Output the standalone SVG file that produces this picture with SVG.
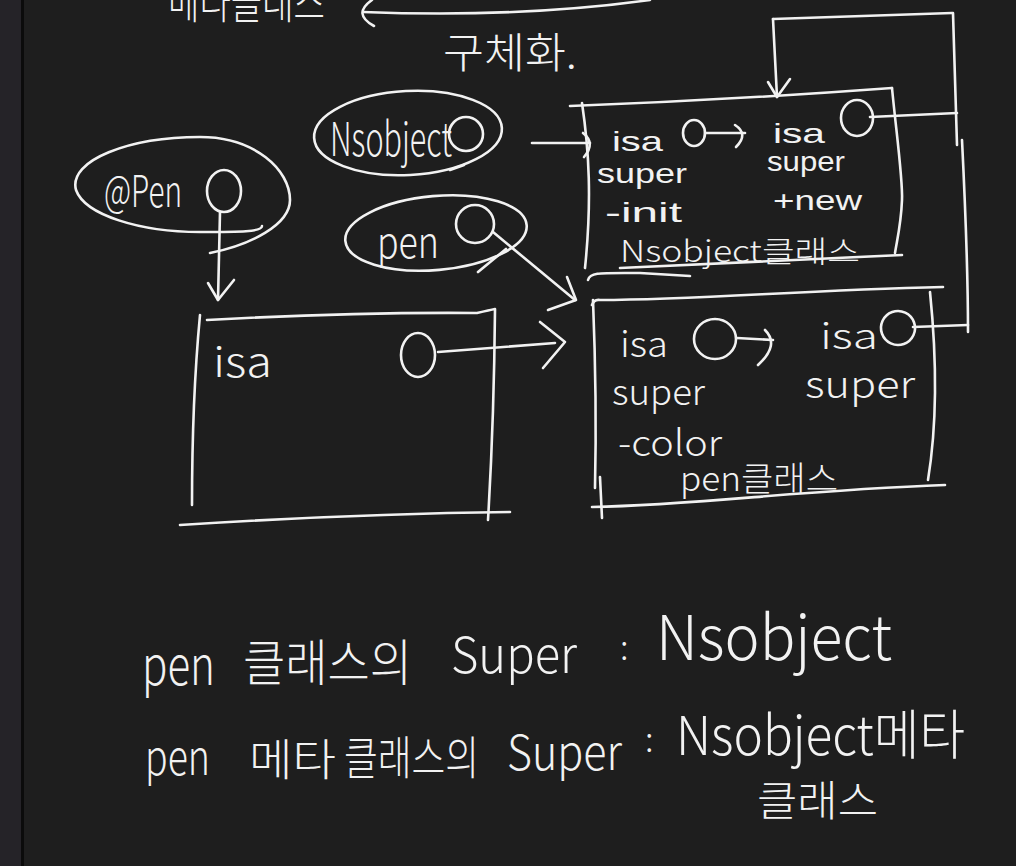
<svg xmlns="http://www.w3.org/2000/svg" width="1016" height="866" viewBox="0 0 1016 866">
<style>
.s{fill:none;stroke:#f2f2f2;stroke-width:2.6;stroke-linecap:round;stroke-linejoin:round}
.t{fill:#f2f2f2;font-family:"Noto Sans CJK KR","Noto Sans",sans-serif;font-weight:300}
.l{fill:#f2f2f2;font-family:"Liberation Sans","Noto Sans",sans-serif}
</style>
<rect x="0" y="0" width="1016" height="866" fill="#1e1e1e"/>
<rect x="0" y="0" width="21" height="866" fill="#252328"/>
<rect x="21" y="0" width="3" height="866" fill="#0b0b0b"/>

<g id="top-notes">
<text class="t" x="168" y="19" font-size="44" textLength="157" lengthAdjust="spacingAndGlyphs">메타클래스</text>
<path class="s" d="M372,0 Q352,14 374,26"/>
<path class="s" d="M363,12 Q520,18 650,0"/>
<text class="t" x="443" y="68" font-size="42" textLength="134" lengthAdjust="spacingAndGlyphs">구체화.</text>
</g>

<g id="nsobject-ellipse">
<ellipse class="s" cx="408" cy="133" rx="94" ry="42" transform="rotate(-3 408 133)"/>
<path class="s" d="M450,170 L464,165"/>
<text class="t" x="330" y="156" font-size="46" textLength="122" lengthAdjust="spacingAndGlyphs">Nsobject</text>
<ellipse class="s" cx="466" cy="134" rx="17" ry="17"/>
</g>

<g id="apen-ellipse">
<path class="s" d="M262,226 C262,232 240,232 200,232 C140,232 85,215 76,190 C68,160 130,137 200,137 C255,137 290,170 290,200 C290,225 250,245 210,253"/>
<text class="t" x="104" y="207" font-size="44" textLength="78" lengthAdjust="spacingAndGlyphs">@Pen</text>
<ellipse class="s" cx="224" cy="191" rx="17" ry="21"/>
</g>

<g id="pen-ellipse">
<ellipse class="s" cx="436" cy="233" rx="91" ry="37" transform="rotate(-5 436 233)"/>
<path class="s" d="M478,272 L506,249"/>
<text class="t" x="377" y="258" font-size="44" textLength="62" lengthAdjust="spacingAndGlyphs">pen</text>
<ellipse class="s" cx="475" cy="224" rx="19" ry="19"/>
</g>

<g id="nsobject-class-box">
<path class="s" d="M570,106 Q730,100 892,88"/>
<path class="s" d="M892,88 C896,130 903,180 902,200 C901,225 897,240 895,253"/>
<path class="s" d="M582,103 C589,150 592,200 585,268"/>
<path class="s" d="M620,268 Q760,262 902,255"/>
<path class="s" d="M588,280 C590,272 600,273 640,273 L690,276"/>
<text class="l" x="612" y="151" font-size="28" textLength="51" lengthAdjust="spacingAndGlyphs">isa</text>
<ellipse class="s" cx="694" cy="133" rx="11" ry="13"/>
<text class="l" x="773" y="143" font-size="28" textLength="52" lengthAdjust="spacingAndGlyphs">isa</text>
<ellipse class="s" cx="857" cy="118" rx="16" ry="18"/>
<text class="l" x="597" y="183" font-size="28" textLength="90" lengthAdjust="spacingAndGlyphs">super</text>
<text class="l" x="767" y="171" font-size="27" textLength="78" lengthAdjust="spacingAndGlyphs">super</text>
<text class="l" x="605" y="222" font-size="28" textLength="77" lengthAdjust="spacingAndGlyphs">-init</text>
<text class="l" x="773" y="210" font-size="28" textLength="89" lengthAdjust="spacingAndGlyphs">+new</text>
<text class="t" x="620" y="262" font-size="30" textLength="240" lengthAdjust="spacingAndGlyphs">Nsobject클래스</text>
</g>

<g id="instance-box">
<path class="s" d="M207,320 Q350,312 477,313 Q490,310 495,309"/>
<path class="s" d="M200,315 Q192,400 192,505"/>
<path class="s" d="M495,310 Q494,420 488,520"/>
<path class="s" d="M180,525 Q350,514 510,512"/>
<text class="t" x="213" y="377" font-size="42" textLength="59" lengthAdjust="spacingAndGlyphs">isa</text>
<ellipse class="s" cx="418" cy="355" rx="17" ry="22"/>
</g>

<g id="pen-class-box">
<path class="s" d="M592,305 Q594,299 600,300 C700,300 800,290 943,287"/>
<path class="s" d="M593,300 Q597,400 595,488"/>
<path class="s" d="M930,292 Q941,400 928,480"/>
<path class="s" d="M592,507 C700,505 800,490 945,485"/>
<path class="s" d="M600,477 L602,518"/>
<text class="t" x="620" y="357" font-size="36" textLength="48" lengthAdjust="spacingAndGlyphs">isa</text>
<ellipse class="s" cx="715" cy="339" rx="21" ry="20"/>
<text class="t" x="820" y="349" font-size="36" textLength="58" lengthAdjust="spacingAndGlyphs">isa</text>
<ellipse class="s" cx="898" cy="328" rx="17" ry="17" transform="rotate(-20 898 328)"/>
<text class="t" x="612" y="405" font-size="36" textLength="93" lengthAdjust="spacingAndGlyphs">super</text>
<text class="t" x="805" y="398" font-size="38" textLength="110" lengthAdjust="spacingAndGlyphs">super</text>
<text class="t" x="618" y="456" font-size="36" textLength="104" lengthAdjust="spacingAndGlyphs">-color</text>
<text class="t" x="680" y="491" font-size="34" textLength="158" lengthAdjust="spacingAndGlyphs">pen클래스</text>
</g>

<g id="connectors">
<path class="s" d="M532,143 L590,143"/>
<path class="s" d="M583,133 Q596,143 584,157"/>
<path class="s" d="M705,133 L745,133"/>
<path class="s" d="M735,125 Q749,134 736,147"/>
<path class="s" d="M870,117 L957,113"/>
<path class="s" d="M953,13 L957,145"/>
<path class="s" d="M952,13 L773,19"/>
<path class="s" d="M773,19 L777,97"/>
<path class="s" d="M768,82 L777,97 L790,79"/>
<path class="s" d="M962,140 C965,200 968,260 968,332"/>
<path class="s" d="M913,327 L968,325"/>
<path class="s" d="M220,212 L218,300"/>
<path class="s" d="M208,283 L218,300 L234,280"/>
<path class="s" d="M493,232 L575,300"/>
<path class="s" d="M567,277 L576,300 L548,310"/>
<path class="s" d="M438,352 L555,343"/>
<path class="s" d="M540,322 L565,342 L543,368"/>
<path class="s" d="M737,338 L773,340"/>
<path class="s" d="M765,330 Q780,345 758,365"/>
</g>

<g id="bottom-notes">
<text class="t" x="142" y="685" font-size="54" textLength="73" lengthAdjust="spacingAndGlyphs">pen</text>
<text class="t" x="243" y="681" font-size="50" textLength="169" lengthAdjust="spacingAndGlyphs">클래스의</text>
<text class="t" x="451" y="673" font-size="50" textLength="126" lengthAdjust="spacingAndGlyphs">Super</text>
<text class="t" x="620" y="660" font-size="34">:</text>
<text class="t" x="656" y="660" font-size="62" textLength="236" lengthAdjust="spacingAndGlyphs">Nsobject</text>
<text class="t" x="145" y="775" font-size="48" textLength="65" lengthAdjust="spacingAndGlyphs">pen</text>
<text class="t" x="249" y="776" font-size="44" textLength="87" lengthAdjust="spacingAndGlyphs">메타</text>
<text class="t" x="344" y="774" font-size="46" textLength="135" lengthAdjust="spacingAndGlyphs">클래스의</text>
<text class="t" x="507" y="770" font-size="48" textLength="115" lengthAdjust="spacingAndGlyphs">Super</text>
<text class="t" x="645" y="752" font-size="34">:</text>
<text class="t" x="676" y="755" font-size="54" textLength="289" lengthAdjust="spacingAndGlyphs">Nsobject메타</text>
<text class="t" x="757" y="816" font-size="42" textLength="121" lengthAdjust="spacingAndGlyphs">클래스</text>
</g>
</svg>
